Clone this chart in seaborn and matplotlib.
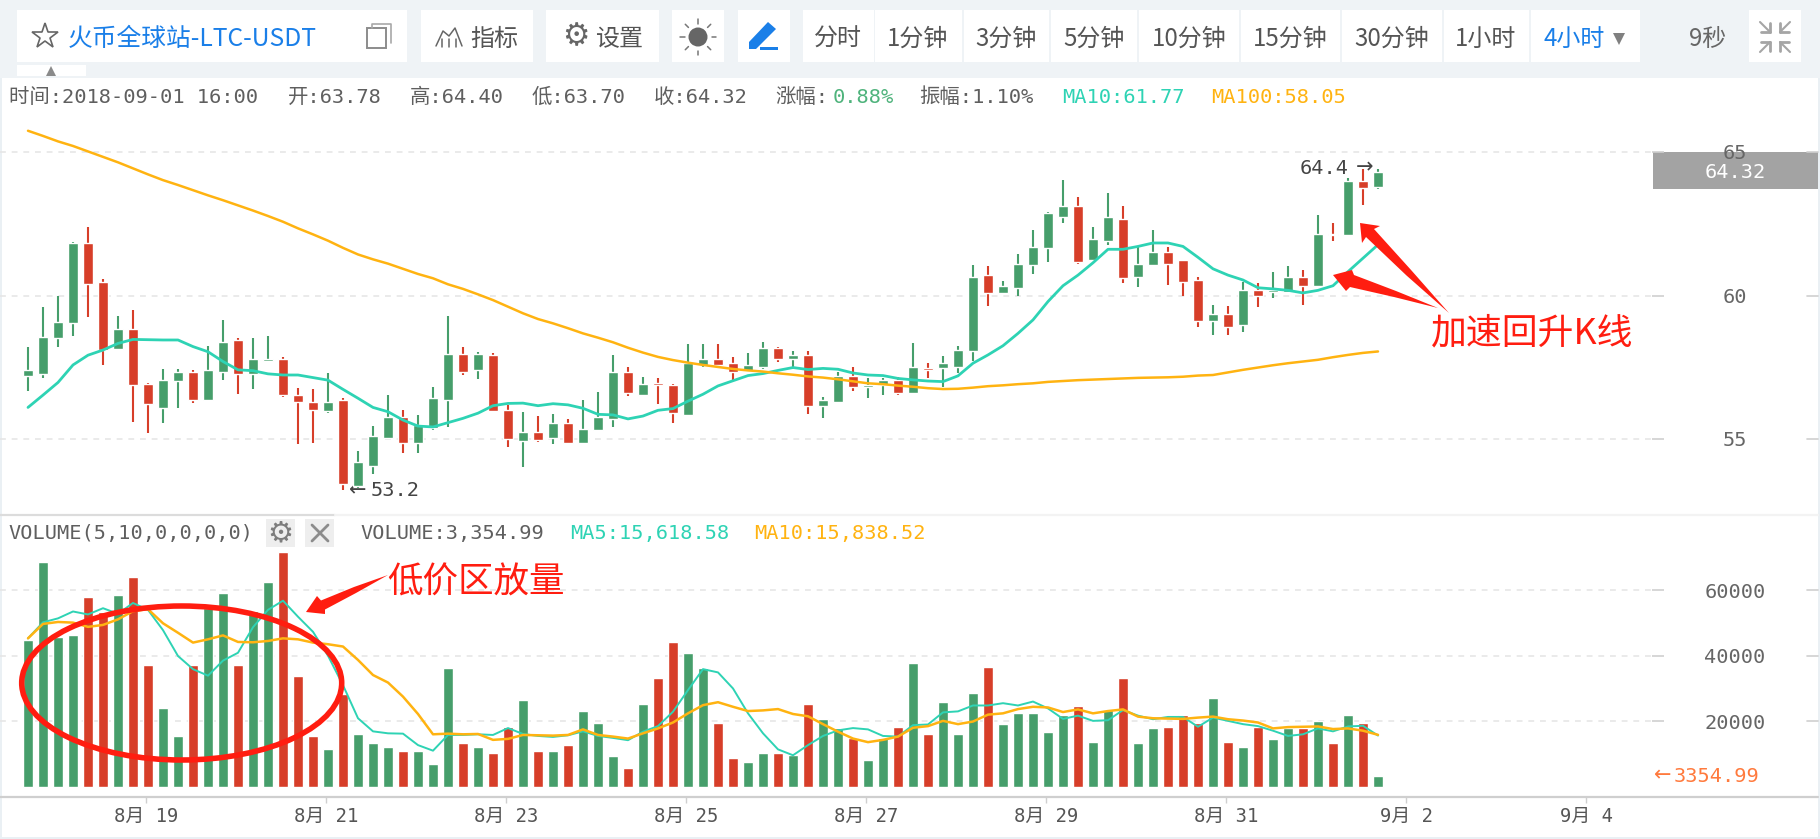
import numpy as np
import pandas as pd
import matplotlib
matplotlib.use('Agg')
import matplotlib.pyplot as plt
from matplotlib.patches import Rectangle, Ellipse, Polygon, Circle
import seaborn as sns

W, H = 1820, 839

# candles, 4h bars from the chart
opens = [57.21, 57.28, 58.52, 59.04, 61.83, 60.46, 58.13, 58.82, 56.93, 56.09,
         57.01, 57.32, 56.35, 57.34, 58.44, 57.28, 57.73, 57.78, 56.55, 56.28,
         55.97, 56.35, 53.35, 54.07, 55.05, 55.76, 54.86, 55.37, 56.36, 57.97,
         57.41, 57.92, 56.02, 54.92, 55.23, 55.05, 55.56, 54.85, 55.30, 55.71,
         57.32, 56.55, 56.93, 56.87, 55.84, 57.58, 57.78, 57.65, 57.38, 57.52,
         58.17, 57.79, 57.92, 56.15, 56.29, 57.20, 56.80, 56.87, 57.06, 56.62,
         57.45, 57.46, 57.52, 58.06, 60.71, 60.08, 60.27, 61.05, 61.64, 62.75,
         63.13, 61.25, 61.90, 62.68, 60.66, 61.05, 61.50, 61.24, 60.53, 59.10,
         59.36, 58.97, 60.19, 60.13, 60.13, 60.66, 60.33, 62.15, 62.10, 63.99,
         63.78]
highs = [58.22, 59.61, 59.99, 61.88, 62.37, 60.56, 59.30, 59.51, 56.96, 57.45,
         57.45, 57.41, 58.24, 59.15, 58.53, 58.52, 58.59, 57.87, 56.77, 56.74,
         57.29, 56.44, 54.57, 55.44, 56.52, 56.01, 55.83, 56.82, 59.29, 58.19,
         58.02, 58.01, 56.19, 55.95, 55.81, 55.87, 55.69, 56.35, 56.65, 57.93,
         57.50, 57.15, 57.11, 56.92, 58.32, 58.32, 58.30, 57.85, 58.01, 58.39,
         58.22, 58.06, 58.08, 56.48, 57.32, 57.50, 57.11, 57.13, 57.15, 58.36,
         57.64, 57.90, 58.25, 61.07, 61.04, 60.49, 61.45, 62.27, 62.91, 64.01,
         63.42, 62.39, 63.56, 63.12, 61.68, 62.27, 61.68, 61.24, 60.66, 59.67,
         59.63, 60.46, 60.42, 60.82, 61.02, 60.88, 62.79, 62.51, 64.10, 64.40,
         64.40]
lows = [56.68, 57.14, 58.22, 58.59, 59.26, 57.57, 58.13, 55.59, 55.20, 55.57,
        56.09, 56.27, 56.35, 57.05, 56.58, 56.74, 57.73, 56.48, 54.81, 54.86,
        55.90, 53.22, 53.28, 53.77, 55.05, 54.50, 54.50, 55.31, 55.42, 57.23,
        57.08, 55.97, 54.71, 54.03, 54.88, 54.83, 54.85, 54.83, 55.30, 55.42,
        56.49, 56.52, 56.22, 55.55, 55.84, 57.50, 57.58, 57.06, 57.32, 57.43,
        57.70, 57.52, 55.87, 55.74, 56.24, 56.67, 56.42, 56.53, 56.53, 56.56,
        57.13, 56.82, 57.29, 57.72, 59.65, 60.08, 59.99, 60.76, 61.17, 62.54,
        61.11, 61.24, 61.77, 60.45, 60.30, 61.05, 60.38, 60.00, 58.91, 58.61,
        58.64, 58.73, 59.60, 59.92, 60.08, 59.66, 60.33, 61.91, 62.10, 63.14,
        63.70]
closes = [57.39, 58.55, 59.09, 61.83, 60.41, 58.10, 58.82, 56.88, 56.23, 57.06,
          57.32, 56.36, 57.39, 58.37, 57.28, 57.78, 57.78, 56.55, 56.29, 56.02,
          56.28, 53.42, 54.19, 55.11, 55.76, 54.86, 55.50, 56.42, 57.97, 57.35,
          57.97, 55.97, 54.99, 55.23, 54.98, 55.56, 54.85, 55.36, 55.76, 57.32,
          56.62, 56.93, 56.88, 55.90, 57.65, 57.78, 57.58, 57.35, 57.58, 58.17,
          57.79, 57.92, 56.15, 56.35, 57.20, 56.80, 56.87, 57.06, 56.60, 57.52,
          57.41, 57.64, 58.10, 60.66, 60.08, 60.33, 61.11, 61.69, 62.87, 63.13,
          61.18, 61.96, 62.75, 60.60, 61.11, 61.50, 61.11, 60.47, 59.10, 59.36,
          58.90, 60.19, 60.00, 60.19, 60.66, 60.33, 62.15, 62.10, 63.99, 63.73,
          64.32]
ma10 = [56.10, 56.53, 56.97, 57.58, 57.92, 58.10, 58.33, 58.47, 58.46, 58.45,
        58.45, 58.22, 58.04, 57.70, 57.41, 57.38, 57.27, 57.23, 57.23, 57.14,
        57.05, 56.73, 56.42, 56.10, 55.95, 55.66, 55.45, 55.42, 55.57, 55.72,
        55.90, 56.16, 56.24, 56.25, 56.16, 56.23, 56.19, 56.07, 55.86, 55.84,
        55.70, 55.80, 56.00, 56.06, 56.32, 56.56, 56.85, 57.03, 57.21, 57.28,
        57.39, 57.49, 57.42, 57.46, 57.43, 57.30, 57.23, 57.21, 57.11, 57.06,
        57.02, 57.00, 57.20, 57.64, 57.93, 58.25, 58.68, 59.15, 59.79, 60.34,
        60.71, 61.14, 61.61, 61.61, 61.71, 61.83, 61.83, 61.71, 61.33, 60.93,
        60.71, 60.54, 60.27, 60.23, 60.18, 60.09, 60.18, 60.34, 60.83, 61.30,
        61.77]
ma100 = [65.74, 65.56, 65.37, 65.21, 65.02, 64.83, 64.64, 64.43, 64.22, 64.02,
         63.85, 63.67, 63.49, 63.32, 63.14, 62.96, 62.77, 62.57, 62.34, 62.13,
         61.91, 61.66, 61.43, 61.26, 61.11, 60.93, 60.75, 60.60, 60.39, 60.23,
         60.04, 59.84, 59.61, 59.38, 59.18, 59.03, 58.86, 58.68, 58.53, 58.37,
         58.18, 58.01, 57.86, 57.75, 57.66, 57.58, 57.51, 57.44, 57.39, 57.35,
         57.29, 57.24, 57.18, 57.14, 57.08, 57.01, 56.94, 56.91, 56.86, 56.82,
         56.77, 56.74, 56.75, 56.79, 56.84, 56.87, 56.91, 56.94, 56.99, 57.02,
         57.05, 57.07, 57.09, 57.11, 57.13, 57.14, 57.15, 57.17, 57.21, 57.23,
         57.32, 57.41, 57.49, 57.57, 57.64, 57.70, 57.76, 57.85, 57.93, 58.00,
         58.05]
volume = [44790, 68700, 45800, 46400, 57900, 53200, 58400, 64100, 37300, 24000,
          15500, 37300, 54500, 59000, 37300, 53500, 62500, 71700, 33800, 15500,
          11500, 28200, 16100, 13200, 12100, 11000, 11000, 6900, 36100, 13200,
          12100, 10400, 18300, 26500, 10900, 10900, 12600, 23000, 19500, 9300,
          5800, 25200, 33300, 44200, 40700, 36100, 19500, 8700, 7500, 10400,
          10400, 9800, 25200, 20700, 17800, 15000, 8100, 15000, 18300, 37900,
          16100, 25900, 16100, 28700, 36700, 19000, 22400, 22400, 16700, 21800,
          24600, 13800, 23500, 33300, 13200, 17800, 18300, 21800, 19500, 27000,
          13800, 12100, 18300, 14500, 17800, 17800, 20100, 13200, 21800, 19500,
          3355]
vol_ma5 = [45300, 50200, 51400, 53500, 52600, 54500, 52800, 56100, 54000, 47800,
           39900, 35900, 33900, 38500, 40900, 48700, 54000, 56800, 51900, 47300,
           40000, 31000, 20900, 16900, 16300, 16200, 12700, 11000, 15800, 15800,
           16000, 15800, 17900, 16100, 15500, 15200, 15700, 16900, 15500, 14900,
           14200, 16800, 18500, 22900, 29500, 35900, 34900, 30000, 22400, 16300,
           11400, 9600, 12700, 15500, 17200, 17900, 17500, 15500, 15300, 18800,
           19000, 22700, 23000, 24800, 24800, 25500, 24800, 26000, 23900, 20700,
           21700, 20100, 20300, 23400, 21700, 20600, 21300, 21300, 18300, 21100,
           20100, 19100, 18500, 17100, 15500, 16000, 17800, 16900, 18400, 18600,
           15618]
vol_ma10 = [45300, 49700, 50300, 50100, 48800, 49400, 51100, 53600, 54200, 49900,
            47000, 44000, 45000, 46200, 44200, 44100, 44500, 45300, 45000, 44000,
            43500, 42800, 38700, 34100, 31800, 27500, 22200, 16000, 16200, 16000,
            16100, 14300, 14600, 15800, 15700, 15600, 15800, 17500, 15800, 15300,
            14700, 16300, 17800, 19600, 22400, 24900, 25800, 24400, 23100, 23300,
            23700, 22200, 21500, 19100, 16800, 14700, 13600, 14300, 15300, 18000,
            18500, 20100, 19100, 19900, 22000, 22400, 23700, 24400, 24200, 22800,
            23600, 22400, 23100, 23600, 21400, 20900, 20800, 20700, 21100, 21400,
            20600, 20200, 19600, 17800, 18200, 18300, 18400, 17600, 17800, 17100,
            15838]
price_ticks = [55, 60, 65]
vol_ticks = [20000, 40000, 60000]
date_idx = [8, 20, 32, 44, 56, 68, 80, 92, 104]
date_labels = ['8月 19', '8月 21', '8月 23', '8月 25', '8月 27', '8月 29', '8月 31', '9月 2', '9月 4']
periods = ['分时', '1分钟', '3分钟', '5分钟', '10分钟', '15分钟', '30分钟', '1小时']

GREEN = '#469e6b'
RED = '#d73e29'
TEAL = '#2ed3b4'
ORANGE = '#ffb311'
ANNOT = '#ff1d10'
BLUE = '#1a7fe8'
GRAY = '#5f5f5f'
MONO = ['DejaVu Sans Mono', 'Noto Sans CJK SC']
CJK = ['Noto Sans CJK SC', 'DejaVu Sans']
GRID = dict(color='#e6e6e6', linewidth=1.2, linestyle=(0, (3.5, 3.5)))

sns.set_theme(style='white')
plt.rcParams['font.family'] = MONO
plt.rcParams['axes.unicode_minus'] = False

df = pd.DataFrame({'idx': np.arange(len(closes)), 'open': opens, 'high': highs, 'low': lows,
                   'close': closes, 'ma10': ma10, 'ma100': ma100, 'volume': volume,
                   'vol_ma5': vol_ma5, 'vol_ma10': vol_ma10})
df['direction'] = np.where(df['close'] >= df['open'], 'up', 'down')
palette = {'up': GREEN, 'down': RED}


def px_axes(fig, x0, y0, x1, y1, zorder):
    ax = fig.add_axes([x0 / W, 1 - y1 / H, (x1 - x0) / W, (y1 - y0) / H], zorder=zorder)
    ax.set_facecolor('none')
    return ax


def idx_lim(x0, x1):
    return (x0 - 28) / 15, (x1 - 28) / 15


fig = plt.figure(figsize=(W / 100, H / 100), dpi=100, facecolor='white')

# background layer in pixel coords: toolbar, separators, price box
bg = px_axes(fig, 0, 0, W, H, 0)
bg.set_xlim(0, W)
bg.set_ylim(H, 0)
bg.axis('off')
bg.add_patch(Rectangle((0, 0), W, 78, color='#eff3f6', lw=0))
bg.add_patch(Rectangle((0, 78), 1.5, H, color='#eaf0f4', lw=0))
bg.add_patch(Rectangle((1818, 78), 2, H, color='#eaf0f4', lw=0))
bg.add_patch(Rectangle((0, 837), W, 2, color='#eaf0f4', lw=0))
bg.plot([0, 335], [515, 515], color='#dcdcdc', lw=1.6)
bg.plot([335, 1818], [515, 515], color='#f3f3f3', lw=1.6)
bg.plot([0, 1818], [796.7, 796.7], color='#cfcfcf', lw=1.6)
bg.add_patch(Rectangle((1653, 152), 165, 37, color='#a3a3a3', lw=0))
bg.text(1735, 172.5, '64.32', color='white', fontsize=14.6, ha='center', va='center')

# toolbar boxes
boxes = [(17, 407), (421, 533), (546, 659), (672, 724), (738, 790), (803, 874), (875, 962),
         (964, 1049), (1051, 1137), (1139, 1239), (1241, 1340), (1342, 1442), (1444, 1529),
         (1531, 1640), (1749, 1801)]
for x0, x1 in boxes:
    bg.add_patch(Rectangle((x0, 10), x1 - x0, 52, color='white', lw=0))
bg.add_patch(Rectangle((17, 65), 69, 11, color='white', lw=0))
bg.plot([51], [71], marker='^', ms=7, color='#8a8a8a', mew=0)

bg.text(68, 39, '火币全球站-LTC-USDT', color=BLUE, fontsize=17.8, family=CJK, ha='left', va='center')
bg.plot([45], [36], marker='*', ms=19, mfc='none', mec='#666666', mew=1.2)
bg.add_patch(Rectangle((367, 28), 19, 20, fill=False, ec='#8c8c8c', lw=1.4))
bg.plot([372, 372, 391, 391], [28, 24, 24, 43], color='#a8a8a8', lw=1.2)

bg.text(470, 39, '指标', color='#555555', fontsize=17.3, family=CJK, ha='left', va='center')
bg.plot([436, 443, 449, 455, 462], [46, 31, 36, 28, 46], color='#666666', lw=1.1)
for xb in [442, 449, 456]:
    bg.plot([xb, xb], [39, 47], color='#666666', lw=1.1)
bg.text(576, 37, '⚙', color='#666666', fontsize=22, family='DejaVu Sans', ha='center', va='center')
bg.text(595, 39, '设置', color='#555555', fontsize=17.3, family=CJK, ha='left', va='center')

# sun
bg.add_patch(Circle((698, 37), 9.5, color='#666666', lw=0))
for ang in np.deg2rad(np.arange(0, 360, 45)):
    bg.plot([698 + 13.5 * np.cos(ang), 698 + 18 * np.cos(ang)],
            [37 + 13.5 * np.sin(ang), 37 + 18 * np.sin(ang)], color='#777777', lw=1.1)
# pen
bg.add_patch(Polygon([(749, 42), (768, 22), (776, 29), (756, 49), (749, 49)], color=BLUE, lw=0))
bg.add_patch(Rectangle((760, 47), 18, 3, color=BLUE, lw=0))

period_x = [838, 918, 1006, 1094, 1189, 1290, 1392, 1486]
for x, label in zip(period_x, periods):
    bg.text(x, 39, label, color='#555555', fontsize=17.3, family=CJK, ha='center', va='center')
bg.text(1574, 39, '4小时', color=BLUE, fontsize=17.3, family=CJK, ha='center', va='center')
bg.plot([1619], [39], marker='v', ms=8, color='#808080', mew=0)
bg.text(1708, 39, '9秒', color='#666666', fontsize=17.3, family=CJK, ha='center', va='center')
for sx, sy in [(-1, -1), (1, -1), (-1, 1), (1, 1)]:
    cx, cy = 1775 + sx * 5, 37 + sy * 5
    ox, oy = cx + sx * 10, cy + sy * 10
    bg.plot([cx, ox], [cy, oy], color='#a5a5a5', lw=1.5)
    bg.plot([cx, cx + sx * 9], [cy, cy], color='#a5a5a5', lw=2)
    bg.plot([cx, cx], [cy, cy + sy * 9], color='#a5a5a5', lw=2)

# info line
info = [(9, '时间:2018-09-01 16:00', GRAY), (288, '开:63.78', GRAY), (410, '高:64.40', GRAY),
        (532, '低:63.70', GRAY), (654, '收:64.32', GRAY), (775, '涨幅:', GRAY),
        (833, '0.88%', '#4fb37c'), (919, '振幅:1.10%', GRAY), (1062, 'MA10:61.77', TEAL),
        (1211, 'MA100:58.05', ORANGE)]
for x, label, col in info:
    bg.text(x, 97.5, label, color=col, fontsize=14.7, ha='left', va='center')

# volume header
bg.text(8, 534, 'VOLUME(5,10,0,0,0,0)', color=GRAY, fontsize=14.6, ha='left', va='center')
bg.add_patch(Rectangle((266, 519), 29, 28, color='#eeeeee', lw=0))
bg.add_patch(Rectangle((305, 519), 29, 28, color='#eeeeee', lw=0))
bg.text(280.5, 533, '⚙', color='#7d7d7d', fontsize=21, family='DejaVu Sans', ha='center', va='center')
bg.plot([312, 328], [525, 541], color='#8c8c8c', lw=2)
bg.plot([312, 328], [541, 525], color='#8c8c8c', lw=2)
bg.text(360, 534, 'VOLUME:3,354.99', color=GRAY, fontsize=14.6, ha='left', va='center')
bg.text(570, 534, 'MA5:15,618.58', color=TEAL, fontsize=14.6, ha='left', va='center')
bg.text(754, 534, 'MA10:15,838.52', color=ORANGE, fontsize=14.6, ha='left', va='center')
bg.text(1654, 775, '←', color='#ff7a3d', fontsize=15, family='DejaVu Sans', ha='left', va='center')
bg.text(1674, 776, '3354.99', color='#ff7a3d', fontsize=14.6, ha='left', va='center')

# price panel
ax = px_axes(fig, 0, 79, 1652, 515, 1)
for _, part in df.groupby('direction'):
    col = palette[part['direction'].iloc[0]]
    ax.vlines(part['idx'], part['low'], part['high'], color=col, lw=1.5, zorder=2)
    bottoms = part[['open', 'close']].min(axis=1)
    tops = part[['open', 'close']].max(axis=1)
    ax.bar(part['idx'], (tops - bottoms).clip(lower=0.06), bottom=bottoms, width=0.66, color=col, zorder=3)
sns.lineplot(data=df, x='idx', y='ma10', color=TEAL, lw=2.0, errorbar=None, ax=ax, zorder=4)
sns.lineplot(data=df, x='idx', y='ma100', color=ORANGE, lw=1.8, errorbar=None, ax=ax, zorder=4)
ax.set_xlim(*idx_lim(0, 1652))
ax.set_ylim(65 - (515 - 152) / 28.7, 65 + (152 - 79) / 28.7)
ax.set_xticks([])
ax.set_yticks(price_ticks)
bg.text(349, 490, '←', color='#444444', fontsize=15, family='DejaVu Sans', ha='left', va='center')
bg.text(371, 491, '53.2', color='#444444', fontsize=14.6, ha='left', va='center')
bg.text(1300, 168, '64.4', color='#444444', fontsize=14.6, ha='left', va='center')
bg.text(1356, 167, '→', color='#444444', fontsize=15, family='DejaVu Sans', ha='left', va='center')

# volume panel
ax_vol = px_axes(fig, 0, 515, 1652, 796.7, 1)
sns.barplot(data=df, x='idx', y='volume', hue='direction', palette=palette, native_scale=True,
            dodge=False, width=0.66, saturation=1, legend=False, ax=ax_vol, zorder=2)
sns.lineplot(data=df, x='idx', y='vol_ma5', color=TEAL, lw=1.4, errorbar=None, ax=ax_vol, zorder=4)
sns.lineplot(data=df, x='idx', y='vol_ma10', color=ORANGE, lw=1.8, errorbar=None, ax=ax_vol, zorder=4)
ax_vol.set_xlim(*idx_lim(0, 1652))
ax_vol.set_ylim(-(796.7 - 786.7) / 65.5 * 20000, (786.7 - 515) / 65.5 * 20000)
ax_vol.set_yticks(vol_ticks)
ax_vol.set_xticks(np.array(date_idx) - 0.13)
ax_vol.set_xticklabels(date_labels)
ax_vol.tick_params(axis='x', bottom=True, length=4.3, width=1, color='#cfcfcf', labelcolor='#555555',
                   labelsize=13.6, pad=3)

for a in (ax, ax_vol):
    a.set_xlabel('')
    a.set_ylabel('')
    for spine in a.spines.values():
        spine.set_visible(False)
    a.set_axisbelow(True)
    a.yaxis.grid(True, **GRID)
    a.yaxis.tick_right()
    a.tick_params(axis='y', right=True, length=8.6, width=1.2, color='#cfcfcf', labelcolor='#666666',
                  labelsize=14.6, pad=51)
    for lab in a.get_yticklabels():
        lab.set_ha('center')
    for val in a.get_yticks():
        a.plot([1807 / 1652, 1818 / 1652], [val, val], transform=a.get_yaxis_transform(),
               color='#cfcfcf', lw=1.2, clip_on=False)

# hand drawn annotations on top
top = px_axes(fig, 0, 0, W, H, 5)
top.set_xlim(0, W)
top.set_ylim(H, 0)
top.axis('off')
top.add_patch(Ellipse((181.7, 683), 320, 154, fill=False, ec=ANNOT, lw=4.0))
arrows = [
    [(306, 612), (317, 596), (321, 600.5), (354, 587), (388, 575), (356, 593), (325, 609.5), (325, 614)],
    [(1333, 275), (1352, 270), (1354, 275), (1396, 291), (1438, 308), (1394, 297), (1350, 287), (1346, 291)],
    [(1360, 223), (1380, 226), (1374, 229), (1411.5, 270.5), (1449, 313), (1406.5, 275.5), (1366, 237), (1362, 243)],
]
for pts in arrows:
    top.add_patch(Polygon(pts, closed=True, color=ANNOT, lw=0))
top.text(387, 583, '低价区放量', color=ANNOT, fontsize=25.6, family=CJK, ha='left', va='center')
top.text(1431, 333, '加速回升K线', color=ANNOT, fontsize=25.8, family=CJK, ha='left', va='center')

fig.savefig('out.png', dpi=100)
